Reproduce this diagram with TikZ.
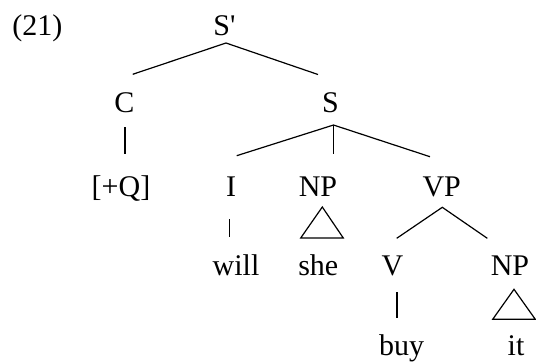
\documentclass[tikz,border=0pt]{standalone}
\usepackage{fontspec}
\setmainfont{Liberation Serif}[Ligatures=TeXOff]
\begin{document}
\begin{tikzpicture}[x=0.5pt,y=-0.5pt,
  lab/.style={anchor=base,inner sep=0pt,font=\fontsize{15}{18}\selectfont},
  br/.style={line width=0.6pt,line cap=butt}]
\useasboundingbox (0,0) rectangle (536,361);
% labels
\node[lab,anchor=base west] (ex) at (12,35) {(21)};
\node[lab] (Sp) at (224.5,35) {S'};
\node[lab] (C) at (124.5,112) {C};
\node[lab] (S) at (330.5,112) {S};
\node[lab] (Q) at (121,196) {[+Q]};
\node[lab] (I) at (231,196) {I};
\node[lab] (NPa) at (318,196) {NP};
\node[lab] (VP) at (441.7,196) {VP};
\node[lab] (will) at (236,275) {will};
\node[lab] (she) at (318.3,275) {she};
\node[lab] (V) at (392.5,275) {V};
\node[lab] (NPb) at (510,275) {NP};
\node[lab] (buy) at (401.7,355) {buy};
\node[lab] (it) at (516,355) {it};
% junction coordinates
\coordinate (SpD) at (226,43);
\coordinate (CU) at (132.7,74.3);
\coordinate (SU) at (318,74.5);
\coordinate (CD) at (125,127);
\coordinate (QU) at (125,154);
\coordinate (SD) at (333.5,125);
\coordinate (IU) at (236.7,155.7);
\coordinate (NPaU) at (333.5,154);
\coordinate (VPU) at (430,156.7);
\coordinate (ID) at (229.3,219);
\coordinate (willU) at (229.3,237);
\coordinate (NPaT) at (322.3,207);
\coordinate (NPaL) at (300.7,238);
\coordinate (NPaR) at (343.3,238);
\coordinate (VPD) at (442.3,207.3);
\coordinate (VU) at (396.7,238.3);
\coordinate (NPbU) at (487.3,238.3);
\coordinate (VD) at (397,292);
\coordinate (buyU) at (397,318);
\coordinate (NPbT) at (514,289.3);
\coordinate (NPbL) at (492.7,319.3);
\coordinate (NPbR) at (535.3,319.3);
% branches
\draw[br] (CU) -- (SpD) -- (SU);
\draw[br] (CD) -- (QU);
\draw[br] (IU) -- (SD) -- (VPU);
\draw[br] (SD) -- (NPaU);
\draw[br] (ID) -- (willU);
\draw[br,line join=miter] (NPaT) -- (NPaL) -- (NPaR) -- cycle;
\draw[br] (VU) -- (VPD) -- (NPbU);
\draw[br] (VD) -- (buyU);
\draw[br,line join=miter] (NPbT) -- (NPbL) -- (NPbR) -- cycle;
\end{tikzpicture}
\end{document}
